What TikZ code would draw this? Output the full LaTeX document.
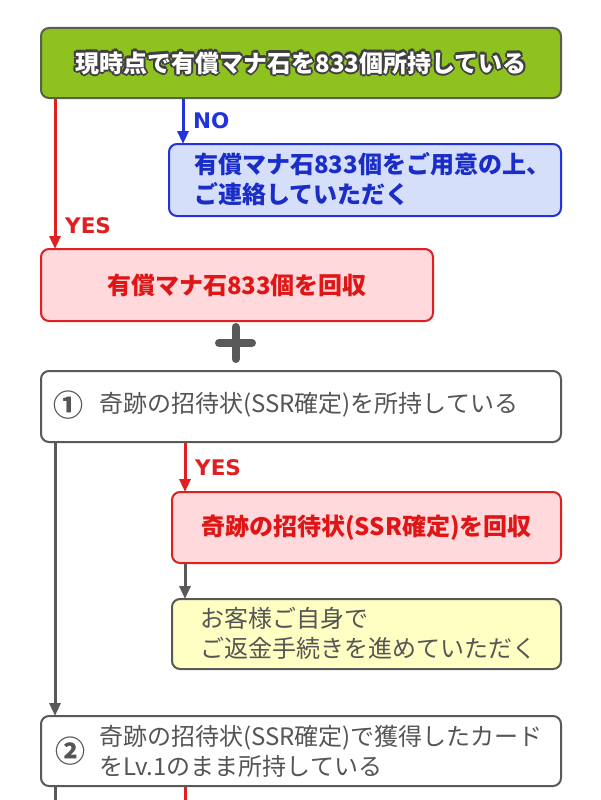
\documentclass[tikz,border=0pt]{standalone}
\usepackage{fontspec}
\setmainfont{Liberation Sans}
\newfontfamily\jp{Noto Sans CJK JP}
\newfontfamily\lat{DejaVu Sans}
\usetikzlibrary{arrows.meta}
\definecolor{gfill}{HTML}{8DC21F}
\definecolor{gline}{HTML}{5A5F4A}
\definecolor{bfill}{HTML}{D6DFFA}
\definecolor{bline}{HTML}{2233DD}
\definecolor{btext}{HTML}{1A2DC8}
\definecolor{rfill}{HTML}{FFD9DC}
\definecolor{rline}{HTML}{E02020}
\definecolor{rtext}{HTML}{E01515}
\definecolor{yfill}{HTML}{FFFFC4}
\definecolor{gray5}{HTML}{595959}
\definecolor{gtext}{HTML}{555555}
\definecolor{outl}{HTML}{404040}
\newcommand{\oshift}[3]{\rlap{\hspace*{#1}\raisebox{#2}{\textcolor{outl}{#3}}}}
\newcommand{\outlinetext}[1]{%
  \oshift{2.1pt}{0pt}{#1}\oshift{-2.1pt}{0pt}{#1}\oshift{0pt}{2.1pt}{#1}\oshift{0pt}{-2.1pt}{#1}%
  \oshift{1.5pt}{1.5pt}{#1}\oshift{-1.5pt}{1.5pt}{#1}\oshift{1.5pt}{-1.5pt}{#1}\oshift{-1.5pt}{-1.5pt}{#1}%
  \textcolor{white}{#1}}
\tikzset{
  box/.style={rounded corners=8pt, line width=2pt, anchor=north west, inner sep=0pt},
  jpb/.style={font=\jp\bfseries\fontsize{24}{30}\selectfont},
  jpr/.style={font=\jp\fontsize{24}{30}\selectfont},
  lab/.style={font=\lat\bfseries\fontsize{21.5}{24}\selectfont, anchor=west, inner sep=0pt},
  con/.style={line width=3pt},
  arr/.style={line width=3pt, -{Triangle[length=13pt,width=11pt]}, shorten >=-1pt},
}
\begin{document}
\begin{tikzpicture}[x=1pt,y=-1pt]
\useasboundingbox (0,0) rectangle (600,800);
\fill[white] (0,0) rectangle (600,800);

% top green box
\node[box, fill=gfill, draw=gline, minimum width=520pt, minimum height=70pt] (g) at (40,27) {};
\node[jpb] (gt) at (g.center) {\outlinetext{現時点で有償マナ石を833個所持している}};

% blue box
\node[box, fill=bfill, draw=bline, minimum width=392pt, minimum height=72pt] (b) at (168,143) {};
\node[jpb, text=btext, anchor=west, align=left, inner sep=0pt] (bt) at (194,179) {有償マナ石833個をご用意の上、\\ご連絡していただく};

% red box 1
\node[box, fill=rfill, draw=rline, minimum width=392pt, minimum height=72pt] (r1) at (40,248) {};
\node[jpb, text=rtext] (r1t) at (r1.center) {有償マナ石833個を回収};

% plus
\draw[gray5, line width=8pt, line cap=round] (219,343) -- (252,343) (235.5,327) -- (235.5,359);

% box 1
\node[box, fill=white, draw=gray5, minimum width=520pt, minimum height=71pt] (c1) at (40,370) {};
\node[font=\jp\bfseries\fontsize{30}{30}\selectfont, text=gtext, inner sep=0pt] (n1) at (68,405) {①};
\node[jpr, text=gtext, anchor=west, inner sep=0pt] (c1t) at (99,405) {奇跡の招待状(SSR確定)を所持している};

% red box 2
\node[box, fill=rfill, draw=rline, minimum width=389pt, minimum height=71pt] (r2) at (171,491) {};
\node[jpb, text=rtext] (r2t) at (r2.center) {奇跡の招待状(SSR確定)を回収};

% yellow box
\node[box, fill=yfill, draw=gray5, minimum width=389pt, minimum height=70pt] (y) at (171,598) {};
\node[jpr, text=gtext, anchor=west, align=left, inner sep=0pt] (yt) at (200,633) {お客様ご自身で\\ご返金手続きを進めていただく};

% box 2
\node[box, fill=white, draw=gray5, minimum width=520pt, minimum height=70pt] (c2) at (40,715) {};
\node[font=\jp\bfseries\fontsize{30}{30}\selectfont, text=gtext, inner sep=0pt] (n2) at (70,751) {②};
\node[jpr, text=gtext, anchor=west, align=left, inner sep=0pt] (c2t) at (99,751) {奇跡の招待状(SSR確定)で獲得したカード\\をLv.1のまま所持している};

% connectors
\draw[arr, bline] ([xshift=143pt]g.south west) -- ([xshift=15pt]b.north west);
\node[lab, text=bline] (no) at (193,121) {NO};
\draw[arr, rline] ([xshift=15pt]g.south west) -- ([xshift=15pt]r1.north west);
\node[lab, text=rline] (yes1) at (65,226) {YES};

\draw[arr, gray5] ([xshift=15pt]c1.south west) -- ([xshift=15pt]c2.north west);
\draw[arr, rline] ([xshift=145pt]c1.south west) -- ([xshift=14pt]r2.north west);
\node[lab, text=rline] (yes2) at (195,468) {YES};
\draw[arr, gray5] ([xshift=14pt]r2.south west) -- ([xshift=14pt]y.north west);

\coordinate (e1) at (55,802);
\coordinate (e2) at (185,802);
\draw[con, gray5] ([xshift=15pt]c2.south west) -- (e1);
\draw[con, rline] ([xshift=145pt]c2.south west) -- (e2);
\end{tikzpicture}
\end{document}
